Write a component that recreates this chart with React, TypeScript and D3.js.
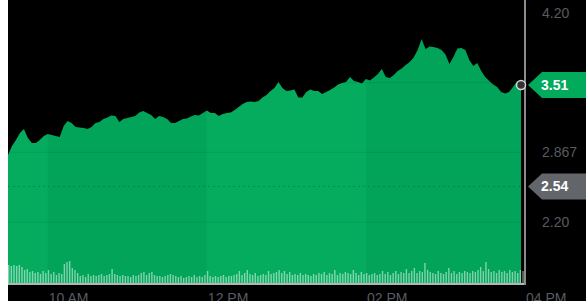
import * as d3 from 'd3';
import React, { useEffect, useRef } from 'react';

// trading session
const sessionStart = new Date(2021, 0, 4, 9, 30)
const sessionEnd = new Date(2021, 0, 4, 16, 0)

// last trade price, one sample every 3 minutes from the open
const priceStepMinutes = 3
const prices = [
  2.841, 2.927, 2.985, 3.052, 3.090, 3.004, 2.956, 2.956, 2.985, 3.023,
  3.042, 3.033, 3.023, 3.013, 3.119, 3.167, 3.147, 3.109, 3.104, 3.100,
  3.090, 3.109, 3.147, 3.157, 3.186, 3.200, 3.219, 3.214, 3.157, 3.186,
  3.195, 3.205, 3.214, 3.248, 3.262, 3.243, 3.224, 3.186, 3.214, 3.205,
  3.186, 3.147, 3.147, 3.167, 3.186, 3.190, 3.210, 3.224, 3.219, 3.243,
  3.267, 3.243, 3.243, 3.214, 3.233, 3.243, 3.248, 3.272, 3.300, 3.329,
  3.348, 3.353, 3.348, 3.358, 3.391, 3.415, 3.454, 3.482, 3.540, 3.482,
  3.454, 3.458, 3.468, 3.391, 3.391, 3.444, 3.468, 3.454, 3.454, 3.425,
  3.444, 3.463, 3.487, 3.516, 3.530, 3.540, 3.588, 3.549, 3.540, 3.525,
  3.568, 3.554, 3.583, 3.616, 3.664, 3.588, 3.578, 3.607, 3.645, 3.669,
  3.702, 3.731, 3.774, 3.846, 3.951, 3.856, 3.879, 3.875, 3.865, 3.846,
  3.803, 3.712, 3.779, 3.860, 3.865, 3.846, 3.750, 3.693, 3.722, 3.645,
  3.588, 3.549, 3.516, 3.492, 3.444, 3.430, 3.444, 3.492, 3.549, 3.510,
]

// volume in thousands of shares, one bar every 2 minutes
const volumeStepMinutes = 2
const volumes = [
  180, 170, 180, 170, 180, 160, 130, 140, 110, 120,
  100, 110, 90, 120, 100, 130, 90, 110, 80, 100,
  90, 190, 210, 220, 150, 130, 100, 70, 80, 60,
  90, 70, 80, 70, 80, 90, 70, 80, 90, 140,
  90, 80, 70, 80, 70, 70, 60, 80, 70, 80,
  100, 110, 80, 100, 110, 80, 70, 70, 60, 70,
  80, 90, 80, 70, 60, 70, 50, 60, 70, 60,
  80, 60, 70, 60, 80, 120, 70, 60, 70, 60,
  70, 80, 60, 70, 70, 80, 90, 120, 80, 100,
  130, 90, 80, 100, 70, 80, 90, 80, 120, 90,
  100, 110, 130, 100, 120, 90, 110, 80, 90, 80,
  100, 80, 90, 80, 70, 90, 80, 100, 90, 110,
  80, 100, 90, 130, 80, 100, 90, 110, 100, 90,
  130, 100, 80, 110, 90, 100, 80, 90, 100, 80,
  90, 120, 90, 110, 80, 100, 120, 90, 110, 100,
  140, 100, 120, 150, 100, 120, 110, 200, 130, 110,
  100, 90, 120, 100, 90, 110, 150, 100, 120, 90,
  110, 100, 120, 110, 100, 120, 110, 130, 160, 120,
  210, 140, 110, 120, 100, 130, 110, 120, 100, 130,
  110, 120, 100, 130, 120,
]

// price axis: grid every third of the range, labels that the tags don't cover
const yGridValues = [4.2, 3.533, 2.867, 2.2]
const yTickValues = [4.2, 2.867, 2.2]
const yTickLabels = ['4.20', '2.867', '2.20']
const lastPrice = 3.51
const previousClose = 2.54

const App = () => {
  const ref = useRef<SVGSVGElement>(null)

  useEffect(() => {
    const width = 578
    const height = 301
    const plotRight = 517
    const plotBottom = 283
    const green = '#02ab5c'
    const font = '"Liberation Sans", Arial, sans-serif'

    const svg = d3.select(ref.current)
    svg.selectAll('*').remove()
    svg.attr('width', width).attr('height', height)

    svg.append('rect')
      .attr('width', width).attr('height', height)
      .attr('fill', '#000')

    const x = d3.scaleTime()
      .domain([sessionStart, sessionEnd])
      .range([0, plotRight])

    const y = d3.scaleLinear()
      .domain([2.2, 4.2])
      .range([222, 13])

    const vol = d3.scaleLinear()
      .domain([0, 220])
      .range([0, 22])

    const priceData = prices.map((p, i) => ({
      t: d3.timeMinute.offset(sessionStart, i * priceStepMinutes),
      p
    }))
    const volumeData = volumes.map((v, i) => ({
      t: d3.timeMinute.offset(sessionStart, i * volumeStepMinutes),
      v
    }))

    // price area
    const area = d3.area<any>()
      .x(d => x(d.t))
      .y0(plotBottom)
      .y1(d => y(d.p))
    const areaPath = area(priceData) as string

    svg.append('clipPath')
      .attr('id', 'area-clip')
      .append('path')
      .attr('d', areaPath)

    svg.append('path')
      .attr('d', areaPath)
      .attr('fill', green)

    const inFill = svg.append('g').attr('clip-path', 'url(#area-clip)')

    // faint alternating time bands
    const hourTicks = x.ticks(d3.timeHour.every(2))
    const edges = [sessionStart, ...hourTicks]
    const bands = d3.pairs(edges)
    inFill.selectAll('.band')
      .data(bands)
      .enter().append('rect')
      .attr('class', 'band')
      .attr('x', d => x(d[0]))
      .attr('width', d => x(d[1]) - x(d[0]))
      .attr('y', 0)
      .attr('height', plotBottom)
      .attr('fill', (d, i) => i % 2 ? 'rgba(0,0,0,0.035)' : 'rgba(255,255,255,0.015)')

    // horizontal grid
    inFill.selectAll('.grid')
      .data(yGridValues)
      .enter().append('line')
      .attr('class', 'grid')
      .attr('x1', 0).attr('x2', plotRight)
      .attr('y1', d => y(d)).attr('y2', d => y(d))
      .attr('stroke', 'rgba(0,0,0,0.07)')

    // previous close
    inFill.append('line')
      .attr('x1', 0).attr('x2', plotRight)
      .attr('y1', y(previousClose)).attr('y2', y(previousClose))
      .attr('stroke', 'rgba(0,0,0,0.16)')
      .attr('stroke-dasharray', '2,3')

    // volume bars
    svg.selectAll('.vol')
      .data(volumeData)
      .enter().append('rect')
      .attr('class', 'vol')
      .attr('x', d => x(d.t))
      .attr('width', 1.4)
      .attr('y', d => plotBottom - vol(d.v))
      .attr('height', d => vol(d.v))
      .attr('fill', 'rgba(255,255,255,0.5)')

    // axis lines
    svg.append('line')
      .attr('x1', 0).attr('x2', plotRight + 1)
      .attr('y1', plotBottom + 1).attr('y2', plotBottom + 1)
      .attr('stroke', '#b5b5b5').attr('stroke-width', 2)
    svg.append('line')
      .attr('x1', plotRight).attr('x2', plotRight)
      .attr('y1', 0).attr('y2', plotBottom + 2)
      .attr('stroke', '#8c8c8c').attr('stroke-width', 2)

    // time labels
    svg.selectAll('.xlabel')
      .data(hourTicks)
      .enter().append('text')
      .attr('class', 'xlabel')
      .attr('x', d => x(d) + 1)
      .attr('y', 303)
      .attr('fill', '#575b60')
      .style('font-family', font)
      .style('font-size', '14px')
      .text(d => d3.timeFormat('%I %p')(d))

    // price labels
    svg.selectAll('.ylabel')
      .data(yTickValues)
      .enter().append('text')
      .attr('class', 'ylabel')
      .attr('x', 534)
      .attr('y', d => y(d))
      .attr('dy', '0.35em')
      .attr('fill', '#575b60')
      .style('font-family', font)
      .style('font-size', '14px')
      .text((d, i) => yTickLabels[i])

    // value tags
    const tag = (value: number, fill: string) => {
      const yc = y(value)
      const x0 = 520
      svg.append('path')
        .attr('d', `M${x0},${yc}L${x0 + 14},${yc - 13}L${width},${yc - 13}L${width},${yc + 13}L${x0 + 14},${yc + 13}Z`)
        .attr('fill', fill)
      svg.append('text')
        .attr('x', 533)
        .attr('y', yc)
        .attr('dy', '0.35em')
        .attr('fill', '#fff')
        .style('font-family', font)
        .style('font-size', '14px')
        .style('font-weight', 'bold')
        .text(value.toFixed(2))
    }
    tag(lastPrice, green)
    tag(previousClose, '#62666b')

    // last point marker
    const last = priceData[priceData.length - 1]
    svg.append('circle')
      .attr('cx', x(last.t))
      .attr('cy', y(last.p))
      .attr('r', 4.5)
      .attr('fill', '#333')
      .attr('stroke', '#d8d8d8')
      .attr('stroke-width', 1.5)
  }, [])

  return (
    <div style={{ position: 'absolute', left: 8, top: 0 }}>
      <svg ref={ref} style={{ display: 'block' }}></svg>
    </div>
  )
}

export default App;
